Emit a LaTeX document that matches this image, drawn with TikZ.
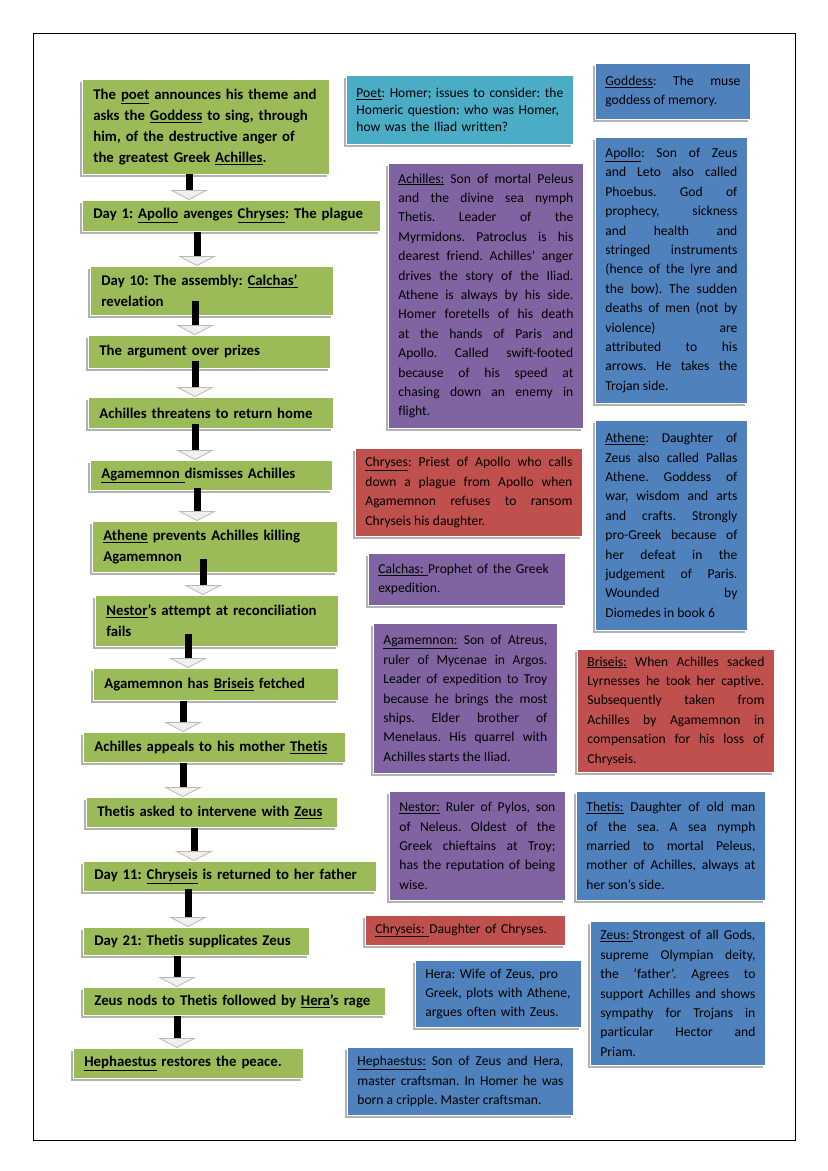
\documentclass[tikz,border=0pt]{standalone}
\usepackage{fontspec}
\setmainfont{Carlito}[Ligatures=NoCommon]
\usepackage{tikz}
\usetikzlibrary{arrows.meta,shadows}
\definecolor{plotgreen}{HTML}{9BBB59}
\definecolor{godblue}{HTML}{4F81BD}
\definecolor{heroviolet}{HTML}{8064A2}
\definecolor{priestred}{HTML}{C0504D}
\definecolor{poetaqua}{HTML}{4BACC6}
\hyphenpenalty=10000
\exhyphenpenalty=10000
\frenchspacing

\begin{document}
\begin{tikzpicture}[
    x=1pt, y=-1pt,
    box/.style={anchor=north west, draw=white, line width=0.8pt, inner ysep=0pt,
                drop shadow={shadow xshift=-2pt, shadow yshift=-3pt,
                             fill=black!50, opacity=0.6}},
    event/.style={box, fill=plotgreen, align=left, inner xsep=11pt,
                  font=\fontsize{14.8}{21}\selectfont\bfseries},
    note/.style={box, align=justify, inner xsep=10pt,
                 font=\fontsize{13.6}{19.4}\selectfont},
    flow/.style={line width=7pt, -{Triangle[width=38pt, length=10pt,
                 line width=0.8pt, fill=gray!12, color=gray!55]}}
]
\fill[white] (0,0) rectangle (828,1171);
\draw[line width=0.7pt] (33,33) rectangle (795,1140);

% plot of book 1, left column
\node[event, text width=225pt, minimum height=95pt] (theme) at (82,79)
    {The \underline{poet} announces his theme and\\asks the \underline{Goddess} to sing, through\\him, of the destructive anger of\\the greatest Greek \underline{Achilles}.};
\node[event, text width=276pt, minimum height=31pt] (plague) at (82,200)
    {Day 1: \underline{Apollo} avenges \underline{Chryses}: The plague};
\node[event, text width=221pt, minimum height=49pt] (assembly) at (90,266)
    {Day 10: The assembly: \underline{Calchas’}\\revelation};
\node[event, text width=220pt, minimum height=33pt] (prizes) at (88,335)
    {The argument over prizes};
\node[event, text width=223pt, minimum height=31pt] (threat) at (88,397)
    {Achilles threatens to return home};
\node[event, text width=220pt, minimum height=30pt] (dismiss) at (90,460)
    {\underline{Agamemnon\ }dismisses Achilles};
\node[event, text width=223pt, minimum height=51pt] (restrain) at (92,521)
    {\underline{Athene} prevents Achilles killing\\Agamemnon};
\node[event, text width=221pt, minimum height=51pt] (reconcile) at (95,595)
    {\underline{Nestor}’s attempt at reconciliation\\fails};
\node[event, text width=223pt, minimum height=32pt] (fetch) at (93,668)
    {Agamemnon has \underline{Briseis} fetched};
\node[event, text width=240pt, minimum height=30pt] (appeal) at (83,732)
    {Achilles appeals to his mother \underline{Thetis}};
\node[event, text width=229pt, minimum height=30pt] (intervene) at (86,797)
    {Thetis asked to intervene with \underline{Zeus}};
\node[event, text width=271pt, minimum height=30pt] (return) at (83,861)
    {Day 11: \underline{Chryseis} is returned to her father};
\node[event, text width=204pt, minimum height=28pt] (supplicate) at (83,927)
    {Day 21: Thetis supplicates Zeus};
\node[event, text width=280pt, minimum height=28pt] (nod) at (83,987)
    {Zeus nods to Thetis followed by \underline{Hera}’s rage};
\node[event, text width=208pt, minimum height=30pt] (peace) at (73,1048)
    {\underline{Hephaestus} restores the peace.};

% characters
\node[note, fill=poetaqua, align=left, text width=207pt, minimum height=69pt,
      font=\fontsize{13.6}{16.8}\selectfont] (poet) at (346,75)
    {\underline{Poet}: Homer; issues to consider: the\\Homeric question: who was Homer,\\how was the Iliad written?};
\node[note, fill=godblue, text width=135pt, minimum height=56pt] (goddess) at (595,63)
    {\underline{Goddess}: The muse \linebreak goddess of memory.};
\node[note, fill=godblue, text width=132pt, minimum height=266pt] (apollo) at (595,137)
    {\underline{Apollo}: Son of Zeus \linebreak and Leto also called \linebreak Phoebus. God of \linebreak prophecy, sickness \linebreak and health and \linebreak stringed instruments \linebreak (hence of the lyre and \linebreak the bow). The sudden \linebreak deaths of men (not by \linebreak violence) are \linebreak attributed to his \linebreak arrows. He takes the \linebreak Trojan side.};
\node[note, fill=godblue, text width=132pt, minimum height=210pt] (athene) at (595,420)
    {\underline{Athene}: Daughter of \linebreak Zeus also called Pallas \linebreak Athene. Goddess of \linebreak war, wisdom and arts \linebreak and crafts. Strongly \linebreak pro-Greek because of \linebreak her defeat in the \linebreak judgement of Paris. \linebreak Wounded by \linebreak Diomedes in book 6};
\node[note, fill=heroviolet, text width=175pt, minimum height=265pt] (achilles) at (388,163)
    {\underline{Achilles:} Son of mortal Peleus \linebreak and the divine sea nymph \linebreak Thetis. Leader of the \linebreak Myrmidons. Patroclus is his \linebreak dearest friend. Achilles’ anger \linebreak drives the story of the Iliad. \linebreak Athene is always by his side. \linebreak Homer foretells of his death \linebreak at the hands of Paris and \linebreak Apollo. Called swift-footed \linebreak because of his speed at \linebreak chasing down an enemy in \linebreak flight.};
\node[note, fill=priestred, text width=207pt, minimum height=88pt] (chryses) at (355,448)
    {\underline{Chryses}: Priest of Apollo who calls \linebreak down a plague from Apollo when \linebreak Agamemnon refuses to ransom \linebreak Chryseis his daughter.};
\node[note, fill=heroviolet, align=left, text width=177pt, minimum height=52pt] (calchas) at (368,553)
    {\underline{Calchas:\ }Prophet of the Greek\\expedition.};
\node[note, fill=heroviolet, text width=164pt, minimum height=150pt] (agamemnon) at (373,623)
    {\underline{Agamemnon:} Son of Atreus, \linebreak ruler of Mycenae in Argos. \linebreak Leader of expedition to Troy \linebreak because he brings the most \linebreak ships. Elder brother of \linebreak Menelaus. His quarrel with \linebreak Achilles starts the Iliad.};
\node[note, fill=priestred, text width=177pt, minimum height=123pt] (briseis) at (577,649)
    {\underline{Briseis:} When Achilles sacked \linebreak Lyrnesses he took her captive. \linebreak Subsequently taken from \linebreak Achilles by Agamemnon in \linebreak compensation for his loss of \linebreak Chryseis.};
\node[note, fill=heroviolet, text width=156pt, minimum height=109pt] (nestor) at (389,791)
    {\underline{Nestor:} Ruler of Pylos, son \linebreak of Neleus. Oldest of the \linebreak Greek chieftains at Troy; \linebreak has the reputation of being \linebreak wise.};
\node[note, fill=godblue, text width=169pt, minimum height=109pt] (thetis) at (576,791)
    {\underline{Thetis:} Daughter of old man \linebreak of the sea. A sea nymph \linebreak married to mortal Peleus, \linebreak mother of Achilles, always at \linebreak her son’s side.};
\node[note, fill=priestred, align=left, text width=180pt, minimum height=30pt] (chryseis) at (365,915)
    {\underline{Chryseis:\ }Daughter of Chryses.};
\node[note, fill=godblue, text width=155pt, minimum height=144pt] (zeus) at (590,921)
    {\underline{Zeus:\ }Strongest of all Gods, \linebreak supreme Olympian deity, \linebreak the ‘father’. Agrees to \linebreak support Achilles and shows \linebreak sympathy for Trojans in \linebreak particular Hector and \linebreak Priam.};
\node[note, fill=godblue, align=left, text width=146pt, minimum height=67pt] (hera) at (415,960)
    {Hera: Wife of Zeus, pro\\Greek, plots with Athene,\\argues often with Zeus.};
\node[note, fill=godblue, text width=206pt, minimum height=68pt] (hephaestus) at (347,1047)
    {\underline{Hephaestus:} Son of Zeus and Hera, \linebreak master craftsman. In Homer he was \linebreak born a cripple. Master craftsman.};

% block arrows down the plot
\draw[flow] ([yshift=1pt]theme.south -| 189,0) -- (plague.north -| 189,0);
\draw[flow] (plague.south -| 197,0) -- (assembly.north -| 197,0);
\draw[flow] ([yshift=15pt]assembly.south -| 195,0) -- (prizes.north -| 195,0);
\draw[flow] ([yshift=8pt]prizes.south -| 195,0) -- (threat.north -| 195,0);
\draw[flow] ([yshift=5pt]threat.south -| 195,0) -- (dismiss.north -| 195,0);
\draw[flow] ([yshift=3pt]dismiss.south -| 197,0) -- (restrain.north -| 197,0);
\draw[flow] ([yshift=14pt]restrain.south -| 203,0) -- (reconcile.north -| 203,0);
\draw[flow] ([yshift=13pt]reconcile.south -| 188,0) -- (fetch.north -| 188,0);
\draw[flow] (fetch.south -| 183,0) -- (appeal.north -| 183,0);
\draw[flow] (appeal.south -| 183,0) -- (intervene.north -| 183,0);
\draw[flow] (intervene.south -| 194,0) -- (return.north -| 194,0);
\draw[flow] ([yshift=3pt]return.south -| 188,0) -- (supplicate.north -| 188,0);
\draw[flow] (supplicate.south -| 177,0) -- (nod.north -| 177,0);
\draw[flow] (nod.south -| 177,0) -- (peace.north -| 177,0);
\end{tikzpicture}
\end{document}
